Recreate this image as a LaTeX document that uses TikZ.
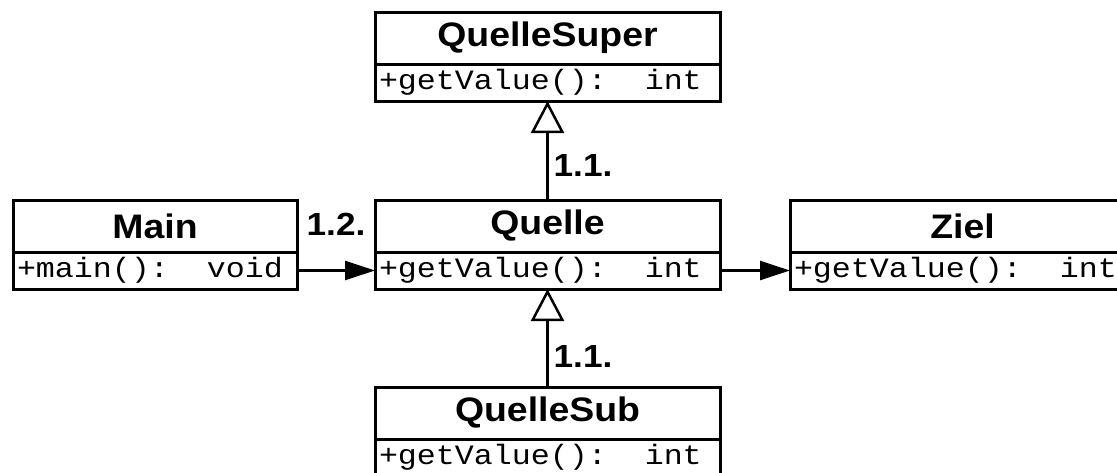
\documentclass[tikz,border=0pt]{standalone}
\usepackage{fontspec}
\usetikzlibrary{arrows.meta}
\newfontfamily\classfont[FakeStretch=1.1]{Liberation Sans}
\newfontfamily\opfont[FakeStretch=1.13]{Liberation Mono}
\newcommand{\opsep}{\hphantom{xx}}
\tikzset{
	classname/.style={draw, line width=3pt, minimum height=52pt, inner sep=0pt, outer sep=0pt,
		font=\classfont\bfseries\fontsize{34}{38}\selectfont},
	classop/.style={draw, line width=3pt, minimum height=37pt, inner xsep=4pt, inner ysep=0pt,
		outer sep=0pt, align=left, anchor=north, font=\opfont\fontsize{28}{32}\selectfont},
	numlabel/.style={font=\classfont\bfseries\fontsize{32}{36}\selectfont},
	navarrow/.style={line width=2.5pt, -{Triangle[length=30pt, width=19pt]}},
	genarrow/.style={line width=2.5pt, -{Triangle[open, length=32pt, width=33pt, line width=2.5pt]}}
}
\begin{document}
\begin{tikzpicture}[x=1pt, y=-1pt]
		\useasboundingbox (0, 0) rectangle (1117, 472);
		
		% classes
		\node[classname, minimum width=345pt] (superT) at (547.5, 38) {QuelleSuper};
		\node[classop, text width=337pt] (superM) at (superT.south) {+getValue():\opsep int};
		
		\node[classname, minimum width=345pt] (quelleT) at (547.5, 226) {Quelle};
		\node[classop, text width=337pt] (quelleM) at (quelleT.south) {+getValue():\opsep int};
		
		\node[classname, minimum width=284pt] (mainT) at (155, 226) {Main};
		\node[classop, text width=276pt] (mainM) at (mainT.south) {+main():\opsep void};
		
		\node[classname, minimum width=345pt] (zielT) at (962.5, 226) {Ziel};
		\node[classop, text width=337pt] (zielM) at (zielT.south) {+getValue():\opsep int};
		
		\node[classname, minimum width=345pt] (subT) at (547.5, 413) {QuelleSub};
		\node[classop, text width=337pt] (subM) at (subT.south) {+getValue():\opsep int};
		
		% associations
		\draw[navarrow] (mainM.east) -- (quelleM.west);
		\draw[navarrow] (quelleM.east) -- (zielM.west);
		
		% generalizations
		\foreach \a/\b in {quelleT/superM, subT/quelleM}
			\draw[genarrow] (\a.north) -- (\b.south);
		
		% numbers
		\node[numlabel] (numsuper) at (583, 165) {1.1.};
		\node[numlabel] (nummain) at (336, 224) {1.2.};
		\node[numlabel] (numsub) at (583, 356) {1.1.};
\end{tikzpicture}
\end{document}
